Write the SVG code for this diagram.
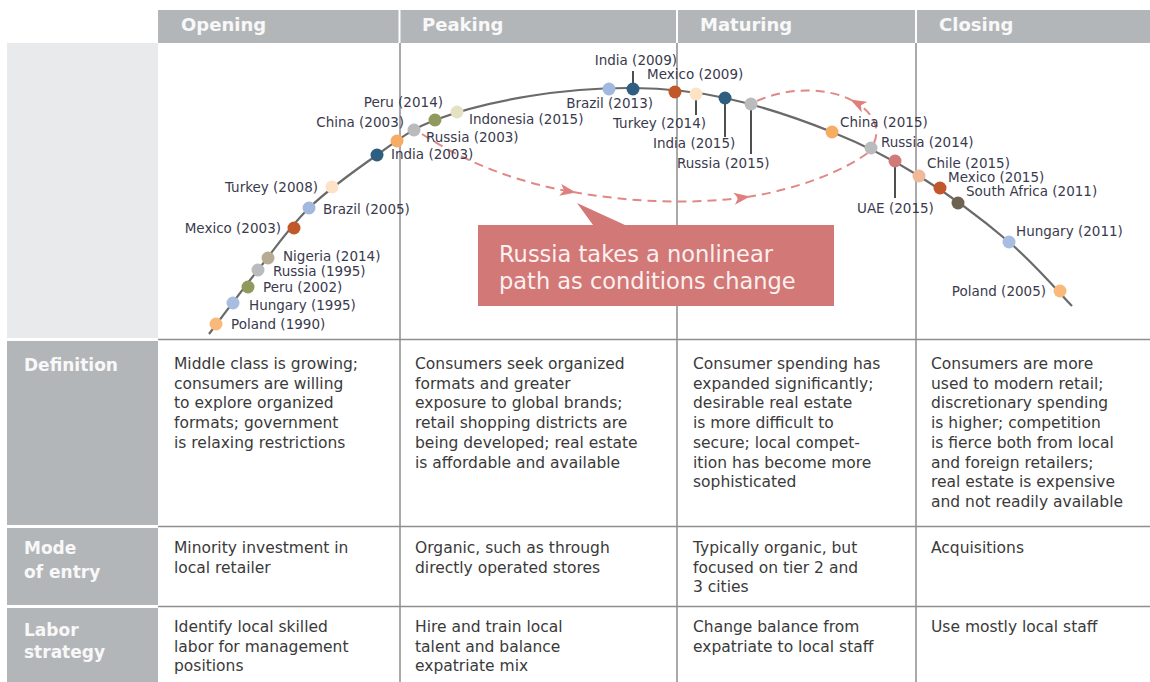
<svg xmlns="http://www.w3.org/2000/svg" width="1150" height="682" viewBox="0 0 1150 682">
<style>
.hdr{font-family:"DejaVu Sans",sans-serif;font-weight:bold;font-size:18px;fill:#f8f8f8}
.rowh{font-family:"DejaVu Sans",sans-serif;font-weight:bold;font-size:17px;fill:#f8f8f8}
.cell{font-family:"DejaVu Sans",sans-serif;font-size:15.5px;fill:#3a3a3a}
.lbl{font-family:"DejaVu Sans",sans-serif;font-size:13.5px;fill:#3a3a4e}
.lbl.e{text-anchor:end}
.grid{stroke:#8e8e8e;stroke-width:1.5;fill:none}
.curve{stroke:#6a6a6a;stroke-width:2.2;fill:none}
.lead{stroke:#222;stroke-width:1.6}
.dash{stroke:#e08886;stroke-width:2;stroke-dasharray:9 6;fill:none}
.dashm{marker-end:url(#ah)}
.call{font-family:"DejaVu Sans",sans-serif;font-size:22.5px;fill:#fdf0f0}
</style>
<defs>
<marker id="ah" viewBox="0 0 16 12" refX="13" refY="6" markerWidth="16" markerHeight="12" markerUnits="userSpaceOnUse" orient="auto">
<path d="M0,0 L16,6 L0,12 L4,6 z" fill="#de807e"/>
</marker>
</defs>
<rect width="1150" height="682" fill="#ffffff"/>

<g id="header">
<rect x="158" y="10" width="992" height="33" fill="#b3b6b9"/>
<line x1="399.5" y1="10" x2="399.5" y2="43" stroke="#ffffff" stroke-width="2"/>
<line x1="677" y1="10" x2="677" y2="43" stroke="#ffffff" stroke-width="2"/>
<line x1="916" y1="10" x2="916" y2="43" stroke="#ffffff" stroke-width="2"/>
<text class="hdr" x="181" y="31">Opening</text>
<text class="hdr" x="422" y="31">Peaking</text>
<text class="hdr" x="700" y="31">Maturing</text>
<text class="hdr" x="939" y="31">Closing</text>
</g>

<g id="left-column">
<rect x="7" y="43" width="151" height="295" fill="#e9eaec"/>
<rect x="7" y="341" width="151" height="184" fill="#b3b6b9"/>
<rect x="7" y="528" width="151" height="77" fill="#b3b6b9"/>
<rect x="7" y="608" width="151" height="74" fill="#b3b6b9"/>
<text class="rowh" x="24" y="371">Definition</text>
<text class="rowh" x="24" y="554">Mode</text>
<text class="rowh" x="24" y="578">of entry</text>
<text class="rowh" x="24" y="636">Labor</text>
<text class="rowh" x="24" y="658">strategy</text>
</g>

<g id="grid">
<line class="grid" x1="400" y1="43" x2="400" y2="682"/>
<line class="grid" x1="677" y1="43" x2="677" y2="682"/>
<line class="grid" x1="916" y1="43" x2="916" y2="682"/>
<line class="grid" x1="158" y1="339.5" x2="1150" y2="339.5" stroke-width="2"/>
<line class="grid" x1="158" y1="526.5" x2="1150" y2="526.5" stroke-width="2.5"/>
<line class="grid" x1="158" y1="606.5" x2="1150" y2="606.5"/>
</g>

<g id="connectors">
<path class="curve" d="M209,334 C217.2,323.3 241.3,291 258,270 C274.7,249 289.2,227.2 309,208 C328.8,188.8 356,169.7 377,155 C398,140.3 409.5,129.8 435,120 C460.5,110.2 497,101.3 530,96 C563,90.7 600.5,87.7 633,88 C665.5,88.3 691.8,90.7 725,98 C758.2,105.3 799.7,119 832,132 C864.3,145 889.5,157.7 919,176 C948.5,194.3 983.5,220.3 1009,242 C1034.5,263.7 1061.5,295.3 1072,306"/>
<line class="lead" x1="633" y1="89" x2="633" y2="71"/>
<line class="lead" x1="696" y1="94" x2="696" y2="115"/>
<line class="lead" x1="725" y1="98" x2="725" y2="137"/>
<line class="lead" x1="751" y1="104" x2="751" y2="154"/>
<line class="lead" x1="895" y1="161" x2="895" y2="198"/>
<path class="dash dashm" d="M422,134 C468,164 520,183 573,192"/>
<path class="dash dashm" d="M573,192 C630,202 690,205 747,197"/>
<path class="dash" d="M747,197 C800,189 845,170 869,152"/>
<path class="dash dashm" d="M874,143 C881,127 872,111 853,101"/>
<path class="dash" d="M853,101 C830,88 790,86 757,101"/>
</g>

<g id="callout">
<path d="M478,225 L593,225 L577,203 L625,225 L834,225 L834,306 L478,306 z" fill="#d27876"/>
<text class="call" x="499" y="262">Russia takes a nonlinear</text>
<text class="call" x="499" y="289">path as conditions change</text>
</g>

<g id="n-poland-1990"><circle cx="216" cy="324" r="6.5" fill="#f9b97a"/><text class="lbl" x="231" y="329">Poland (1990)</text></g>
<g id="n-hungary-1995"><circle cx="233" cy="303" r="6.5" fill="#a9bde0"/><text class="lbl" x="249" y="310">Hungary (1995)</text></g>
<g id="n-peru-2002"><circle cx="248" cy="287" r="6.5" fill="#8f9a5c"/><text class="lbl" x="263" y="292">Peru (2002)</text></g>
<g id="n-russia-1995"><circle cx="258" cy="270" r="6.5" fill="#b9bbbd"/><text class="lbl" x="273" y="276">Russia (1995)</text></g>
<g id="n-nigeria-2014"><circle cx="268" cy="258" r="6.5" fill="#b8ab94"/><text class="lbl" x="283" y="260.5">Nigeria (2014)</text></g>
<g id="n-mexico-2003"><circle cx="294" cy="228" r="6.5" fill="#c0582a"/><text class="lbl e" x="281" y="233">Mexico (2003)</text></g>
<g id="n-brazil-2005"><circle cx="309" cy="208" r="6.5" fill="#a3b8df"/><text class="lbl" x="323" y="214">Brazil (2005)</text></g>
<g id="n-turkey-2008"><circle cx="332" cy="187" r="6.5" fill="#fde2c6"/><text class="lbl e" x="318" y="192">Turkey (2008)</text></g>
<g id="n-india-2003"><circle cx="377" cy="155" r="6.5" fill="#2e5f80"/><text class="lbl" x="391" y="159">India (2003)</text></g>
<g id="n-china-2003"><circle cx="397" cy="141" r="6.5" fill="#f7ac63"/><text class="lbl e" x="404" y="127">China (2003)</text></g>
<g id="n-russia-2003"><circle cx="414" cy="130" r="6.5" fill="#b9bbbd"/><text class="lbl" x="426" y="142">Russia (2003)</text></g>
<g id="n-peru-2014"><circle cx="435" cy="120" r="6.5" fill="#8f9a5c"/><text class="lbl e" x="443" y="107">Peru (2014)</text></g>
<g id="n-indonesia-2015"><circle cx="457" cy="112" r="6.5" fill="#e4e2c2"/><text class="lbl" x="469" y="124">Indonesia (2015)</text></g>
<g id="n-brazil-2013"><circle cx="609" cy="89" r="6.5" fill="#a3b8df"/><text class="lbl e" x="653" y="108">Brazil (2013)</text></g>
<g id="n-india-2009"><circle cx="633" cy="89" r="6.5" fill="#2e5f80"/><text class="lbl e" x="677" y="65">India (2009)</text></g>
<g id="n-mexico-2009"><circle cx="675" cy="92" r="6.5" fill="#c0582a"/><text class="lbl" x="647" y="79">Mexico (2009)</text></g>
<g id="n-turkey-2014"><circle cx="696" cy="94" r="6.5" fill="#fde2c6"/><text class="lbl e" x="706" y="128">Turkey (2014)</text></g>
<g id="n-india-2015"><circle cx="725" cy="98" r="6.5" fill="#2e5f80"/><text class="lbl" x="653" y="148">India (2015)</text></g>
<g id="n-russia-2015"><circle cx="751" cy="104" r="6.5" fill="#b9bbbd"/><text class="lbl" x="677" y="168">Russia (2015)</text></g>
<g id="n-china-2015"><circle cx="832" cy="132" r="6.5" fill="#f7ac63"/><text class="lbl" x="840" y="127">China (2015)</text></g>
<g id="n-russia-2014"><circle cx="871" cy="148" r="6.5" fill="#b9bbbd"/><text class="lbl" x="881" y="147">Russia (2014)</text></g>
<g id="n-uae-2015"><circle cx="895" cy="161" r="6.5" fill="#d07a7a"/><text class="lbl" x="857" y="213">UAE (2015)</text></g>
<g id="n-chile-2015"><circle cx="919" cy="176" r="6.5" fill="#efb99a"/><text class="lbl" x="927" y="168">Chile (2015)</text></g>
<g id="n-mexico-2015"><circle cx="940" cy="188" r="6.5" fill="#c0582a"/><text class="lbl" x="948" y="182">Mexico (2015)</text></g>
<g id="n-southafrica-2011"><circle cx="958" cy="203" r="6.5" fill="#6e6350"/><text class="lbl" x="966" y="196">South Africa (2011)</text></g>
<g id="n-hungary-2011"><circle cx="1009" cy="242" r="6.5" fill="#a9bde0"/><text class="lbl" x="1016" y="236">Hungary (2011)</text></g>
<g id="n-poland-2005"><circle cx="1060" cy="291" r="6.5" fill="#f9b97a"/><text class="lbl e" x="1046" y="296">Poland (2005)</text></g>

<g id="definition-row">
<text class="cell" x="174" y="369"><tspan x="174">Middle class is growing;</tspan><tspan x="174" dy="19.7">consumers are willing</tspan><tspan x="174" dy="19.7">to explore organized</tspan><tspan x="174" dy="19.7">formats; government</tspan><tspan x="174" dy="19.7">is relaxing restrictions</tspan></text>
<text class="cell" x="415" y="369"><tspan x="415">Consumers seek organized</tspan><tspan x="415" dy="19.7">formats and greater</tspan><tspan x="415" dy="19.7">exposure to global brands;</tspan><tspan x="415" dy="19.7">retail shopping districts are</tspan><tspan x="415" dy="19.7">being developed; real estate</tspan><tspan x="415" dy="19.7">is affordable and available</tspan></text>
<text class="cell" x="693" y="369"><tspan x="693">Consumer spending has</tspan><tspan x="693" dy="19.7">expanded significantly;</tspan><tspan x="693" dy="19.7">desirable real estate</tspan><tspan x="693" dy="19.7">is more difficult to</tspan><tspan x="693" dy="19.7">secure; local compet-</tspan><tspan x="693" dy="19.7">ition has become more</tspan><tspan x="693" dy="19.7">sophisticated</tspan></text>
<text class="cell" x="931" y="369"><tspan x="931">Consumers are more</tspan><tspan x="931" dy="19.7">used to modern retail;</tspan><tspan x="931" dy="19.7">discretionary spending</tspan><tspan x="931" dy="19.7">is higher; competition</tspan><tspan x="931" dy="19.7">is fierce both from local</tspan><tspan x="931" dy="19.7">and foreign retailers;</tspan><tspan x="931" dy="19.7">real estate is expensive</tspan><tspan x="931" dy="19.7">and not readily available</tspan></text>
</g>

<g id="mode-row">
<text class="cell" x="174" y="553"><tspan x="174">Minority investment in</tspan><tspan x="174" dy="19.6">local retailer</tspan></text>
<text class="cell" x="415" y="553"><tspan x="415">Organic, such as through</tspan><tspan x="415" dy="19.6">directly operated stores</tspan></text>
<text class="cell" x="693" y="553"><tspan x="693">Typically organic, but</tspan><tspan x="693" dy="19.6">focused on tier 2 and</tspan><tspan x="693" dy="19.6">3 cities</tspan></text>
<text class="cell" x="931" y="553"><tspan x="931">Acquisitions</tspan></text>
</g>

<g id="labor-row">
<text class="cell" x="174" y="632"><tspan x="174">Identify local skilled</tspan><tspan x="174" dy="19.6">labor for management</tspan><tspan x="174" dy="19.6">positions</tspan></text>
<text class="cell" x="415" y="632"><tspan x="415">Hire and train local</tspan><tspan x="415" dy="19.6">talent and balance</tspan><tspan x="415" dy="19.6">expatriate mix</tspan></text>
<text class="cell" x="693" y="632"><tspan x="693">Change balance from</tspan><tspan x="693" dy="19.6">expatriate to local staff</tspan></text>
<text class="cell" x="931" y="632"><tspan x="931">Use mostly local staff</tspan></text>
</g>
</svg>
